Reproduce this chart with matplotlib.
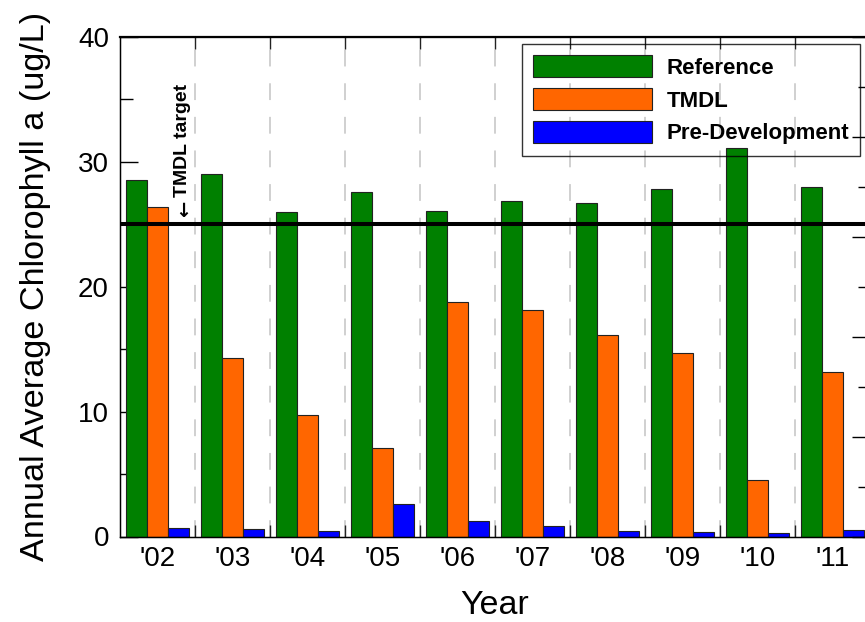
import numpy as np
import matplotlib
matplotlib.use("Agg")
import matplotlib.pyplot as plt
from matplotlib.ticker import MultipleLocator, FixedLocator, NullFormatter

plt.rcParams['font.family'] = ['Liberation Sans', 'DejaVu Sans']

years = ["'02", "'03", "'04", "'05", "'06", "'07", "'08", "'09", "'10", "'11"]
reference = [28.55, 29.0, 26.0, 27.6, 26.1, 26.9, 26.7, 27.8, 31.1, 28.0]
tmdl = [26.4, 14.3, 9.7, 7.1, 18.8, 18.1, 16.1, 14.7, 4.5, 13.15]
predev = [0.66, 0.63, 0.41, 2.63, 1.27, 0.81, 0.41, 0.34, 0.28, 0.5]
target = 25
series_names = ["Reference", "TMDL", "Pre-Development"]
colors = ["#008000", "#ff6600", "#0000ff"]

fig = plt.figure(figsize=(8.65, 6.22), dpi=100)
ax = fig.add_axes([120/865, 85.5/622, 750/865, 499.5/622])

x = np.arange(1, len(years) + 1)
w = 0.283
seps = x[:-1] + 0.5

for s in seps:
    ax.axvline(s, color="#c4c4c4", lw=1.1, dashes=(11, 11), zorder=1)

for i, (vals, name, c) in enumerate(zip([reference, tmdl, predev], series_names, colors)):
    ax.bar(x + (i - 1) * w, vals, width=w, color=c, edgecolor="#222222",
           linewidth=0.8, label=name, zorder=2)

ax.axhline(target, color="black", lw=2.9, zorder=3)
# annotation: arrow glyph + label
ax.text(1.35, 25.6, "\u2190", rotation=90, ha="center", va="bottom",
        fontsize=14, fontweight="bold", family="DejaVu Sans", zorder=4)
ax.text(1.337, 27.15, "TMDL target", rotation=90, ha="center", va="bottom",
        fontsize=14, fontweight="bold", zorder=4)

ax.set_xlim(0.5, len(years) + 0.5)
ax.set_ylim(0, 40)

ax.set_xticks(x)
ax.set_xticklabels(years)
ax.xaxis.set_minor_locator(FixedLocator(seps))
ax.tick_params(axis="x", which="major", length=0, labelsize=20, pad=7)
ax.tick_params(axis="x", which="minor", direction="in", length=8.6, width=1.0,
               top=True, bottom=True, color="#222222")

ax.yaxis.set_major_locator(MultipleLocator(10))
ax.yaxis.set_minor_locator(MultipleLocator(5))
ax.tick_params(axis="y", which="major", direction="in", length=13, width=1.0,
               labelsize=20, pad=8, right=False)
ax.tick_params(axis="y", which="minor", direction="in", length=9, width=1.0, right=False)

for sp in ax.spines.values():
    sp.set_linewidth(1.0)
ax.spines["top"].set_linewidth(1.6)

ax.set_xlabel("Year", fontsize=24.5, labelpad=13)
ax.set_ylabel("Annual Average Chlorophyll a (ug/L)", fontsize=24.7, labelpad=19)

ax2 = ax.twinx()
ax2.set_ylim(0, 5)
ax2.yaxis.set_major_locator(MultipleLocator(1))
ax2.yaxis.set_minor_locator(MultipleLocator(0.5))
ax2.yaxis.set_major_formatter(NullFormatter())
ax2.tick_params(axis="y", which="major", direction="in", length=13, width=1.0)
ax2.tick_params(axis="y", which="minor", direction="in", length=8.5, width=1.0)

fs = 16
leg = ax.legend(loc="upper right", bbox_to_anchor=(860/865, (622-44)/622),
                bbox_transform=fig.transFigure,
                prop={"weight": "bold", "size": fs}, handlelength=5.36,
                handleheight=1.15, handletextpad=0.62, labelspacing=0.42,
                borderpad=0.5, borderaxespad=0, fancybox=False, frameon=True)
leg.get_frame().set_facecolor("none")
leg.get_frame().set_edgecolor("black")
leg.get_frame().set_linewidth(1.0)
leg.set_zorder(5)

fig.savefig("out.png", dpi=100)
